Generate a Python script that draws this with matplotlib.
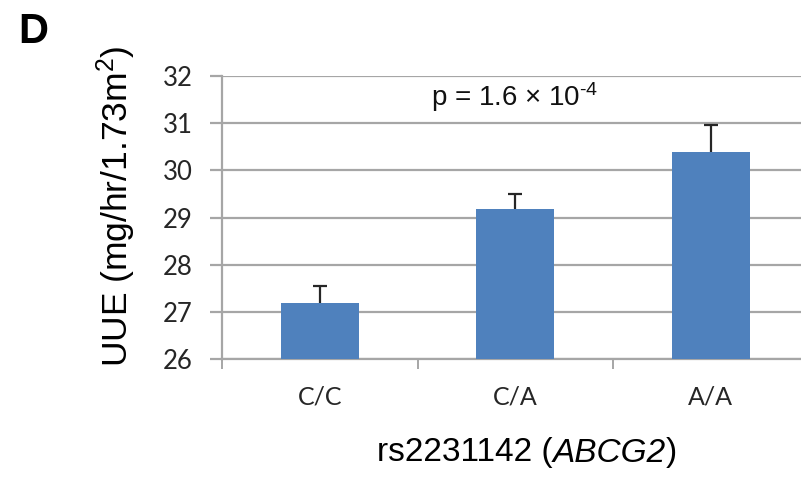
import numpy as np
import matplotlib
matplotlib.use("Agg")
import matplotlib.pyplot as plt
from matplotlib.ticker import FixedLocator
from matplotlib.offsetbox import TextArea, HPacker, AnnotationBbox

# genotype groups and mean UUE with upper SE
genotypes = ["C/C", "C/A", "A/A"]
uue_mean = [27.18, 29.18, 30.39]
uue_se = [0.36, 0.32, 0.57]
yticks = [26, 27, 28, 29, 30, 31, 32]

plt.rcParams["mathtext.fontset"] = "custom"
plt.rcParams["mathtext.rm"] = "Liberation Sans"
plt.rcParams["mathtext.it"] = "Liberation Sans:italic"

fig = plt.figure(figsize=(8.01, 4.78), dpi=100)
ax = fig.add_axes([222 / 801, 119 / 478, 586.5 / 801, 283 / 478])

x = np.arange(len(genotypes))
grid_col = "#a6a6a6"
ax.bar(x, uue_mean, width=0.4, color="#4f81bd", zorder=3)
# error bars sit under the bars so only the upper whisker shows
ax.errorbar(x, uue_mean, yerr=uue_se, fmt="none",
            ecolor="#262626", elinewidth=1.6, capsize=4.8, capthick=1.6, zorder=2.5)

ax.set_xlim(-0.5, 2.5)
ax.set_ylim(26, 32)
ax.set_yticks(yticks)
ax.yaxis.grid(True, color=grid_col, linewidth=1.6, zorder=0)
ax.set_axisbelow(True)

# boundaries between categories get the tick marks, labels sit at the centres
ax.xaxis.set_major_locator(FixedLocator([-0.5, 0.5, 1.5, 2.5]))
ax.xaxis.set_minor_locator(FixedLocator(x))
ax.set_xticklabels([], minor=False)
ax.set_xticklabels(genotypes, minor=True)
ax.tick_params(axis="x", which="major", length=7, width=1.4, color=grid_col)
ax.tick_params(axis="x", which="minor", length=0, pad=19, labelsize=18,
               labelcolor="#262626")
ax.tick_params(axis="y", length=9, width=1.6, color=grid_col, pad=12,
               labelsize=18.5, labelcolor="#262626")
for lab in ax.get_xticklabels(minor=True) + ax.get_yticklabels():
    lab.set_fontfamily("Lato")

for side in ["top", "right"]:
    ax.spines[side].set_visible(False)
for side in ["left", "bottom"]:
    ax.spines[side].set_color(grid_col)
    ax.spines[side].set_linewidth(1.6)

ax.text(0.995, 31.56, "p = 1.6 \u00d7 10$^{\u2010 4}$", ha="center", va="center",
        fontsize=20, family="Liberation Sans", color="#111111")

fig.text(116 / 801, 1 - 206 / 478, r"UUE (mg/hr/1.73m$^{2}$)", rotation=90,
         ha="center", va="center", fontsize=25.5, family="Liberation Sans")

# x label with the gene name in italics
xl_props = dict(fontsize=24, family="Liberation Sans", color="black")
parts = [TextArea("rs2231142 (", textprops=xl_props),
         TextArea("ABCG2", textprops=dict(xl_props, style="italic")),
         TextArea(")", textprops=xl_props)]
xlab = HPacker(children=parts, align="baseline", pad=0, sep=0)
fig.add_artist(AnnotationBbox(xlab, (527 / 801, 1 - 453 / 478), xycoords="figure fraction",
                              frameon=False, box_alignment=(0.5, 0.5)))

fig.text(18 / 801, 1 - 12 / 478, "D", ha="left", va="top", fontsize=30,
         fontweight="bold", family="Liberation Sans")

fig.savefig("out.png", dpi=100)
